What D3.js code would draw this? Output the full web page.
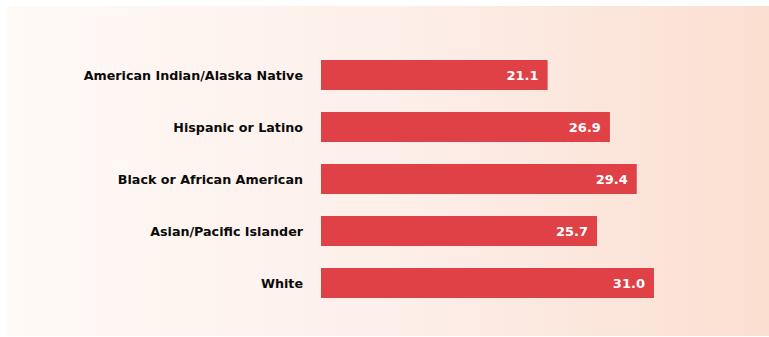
<!DOCTYPE html>
<html>
<head>
<meta charset="utf-8">
<script src="https://cdn.jsdelivr.net/npm/d3@7"></script>
<style>
  html, body { margin: 0; padding: 0; background: #ffffff; }
  svg { display: block; }
</style>
</head>
<body>
<svg id="chart" width="769" height="337"></svg>
<script>
// Rates by race/ethnicity
const categories = [
  "American Indian/Alaska Native",
  "Hispanic or Latino",
  "Black or African American",
  "Asian/Pacific Islander",
  "White"
];
const values = [21.1, 26.9, 29.4, 25.7, 31.0];
const valueLabels = ["21.1", "26.9", "29.4", "25.7", "31.0"];

const svg = d3.select("#chart");
const W = 769, H = 337;

// Soft warm gradient panel behind the bars
const defs = svg.append("defs");
const grad = defs.append("linearGradient")
  .attr("id", "panelGrad")
  .attr("x1", "0%").attr("y1", "0%")
  .attr("x2", "100%").attr("y2", "0%");
grad.append("stop").attr("offset", "0%").attr("stop-color", "#fffaf6");
grad.append("stop").attr("offset", "50%").attr("stop-color", "#fdefea");
grad.append("stop").attr("offset", "100%").attr("stop-color", "#fbdfd1");

svg.append("rect")
  .attr("x", 7).attr("y", 6)
  .attr("width", W - 7).attr("height", 330)
  .attr("fill", "url(#panelGrad)");

const x0 = 321;
const x = d3.scaleLinear().domain([0, 10]).range([x0, x0 + 107.4]);

const y = d3.scaleBand()
  .domain(categories)
  .range([49, 309])
  .paddingInner(22 / 52)
  .paddingOuter(11 / 52);

const fontStack = "'DejaVu Sans', Verdana, sans-serif";
const g = svg.append("g");

g.selectAll("rect.bar")
  .data(categories)
  .join("rect")
  .attr("class", "bar")
  .attr("x", x(0))
  .attr("y", d => y(d))
  .attr("width", (d, i) => x(values[i]) - x(0))
  .attr("height", y.bandwidth())
  .attr("fill", "#df4146");

// Category labels on the left
g.selectAll("text.cat")
  .data(categories)
  .join("text")
  .attr("class", "cat")
  .attr("x", 303)
  .attr("y", d => y(d) + y.bandwidth() / 2)
  .attr("dy", "0.36em")
  .attr("text-anchor", "end")
  .attr("font-family", fontStack)
  .attr("font-weight", "bold")
  .attr("font-size", "12.7px")
  .attr("fill", "#0a0a0a")
  .text(d => d);

// Value labels inside the bar ends
g.selectAll("text.val")
  .data(categories)
  .join("text")
  .attr("class", "val")
  .attr("x", (d, i) => x(values[i]) - 9)
  .attr("y", d => y(d) + y.bandwidth() / 2)
  .attr("dy", "0.36em")
  .attr("text-anchor", "end")
  .attr("font-family", fontStack)
  .attr("font-weight", "bold")
  .attr("font-size", "13px")
  .attr("fill", "#ffffff")
  .text((d, i) => valueLabels[i]);
</script>
</body>
</html>
